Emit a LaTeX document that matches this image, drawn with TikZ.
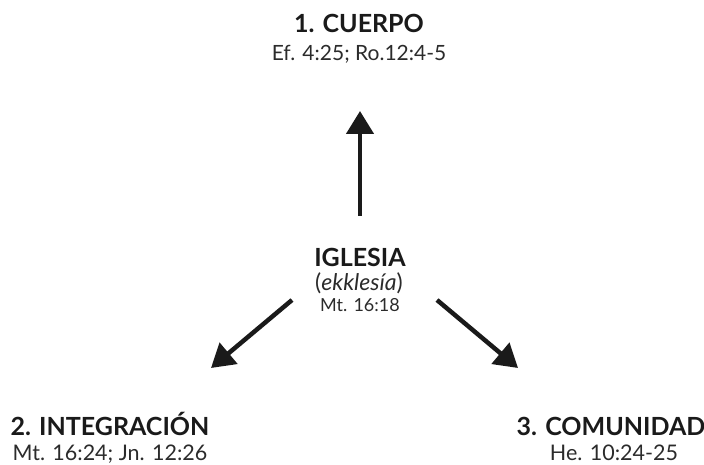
\documentclass[tikz,border=0pt]{standalone}
\usepackage{fontspec}
\setmainfont{Lato}
\usetikzlibrary{arrows.meta}
\definecolor{txt}{HTML}{1A1A1A}
\definecolor{reftxt}{HTML}{2B2B2B}
\begin{document}
\begin{tikzpicture}[x=1bp,y=-1bp,
  title/.style={anchor=base,inner sep=0pt,text=txt,font=\fontsize{25bp}{28bp}\selectfont\bfseries},
  reftext/.style={anchor=base,inner sep=0pt,text=reftxt},
  reftop/.style={reftext,font=\fontsize{21bp}{24bp}\selectfont},
  refmid/.style={reftext,font=\fontsize{18bp}{21bp}\selectfont},
  refital/.style={reftext,font=\fontsize{23bp}{26bp}\selectfont},
  refbot/.style={reftext,font=\fontsize{21.5bp}{24bp}\selectfont},
  arr/.style={line width=4.5bp,draw=txt,-{Triangle[length=23bp,width=27bp]}}]
\useasboundingbox (0,0) rectangle (704,465);
\node[title] (t1) at (359,33) {1. CUERPO};
\node[reftop] (r1) at (359,61) {Ef. 4:25; Ro.12:4-5};
\node[title] (ig) at (360,267) {IGLESIA};
\node[refital] (ek) at (359,291) {(\textit{ekklesía})};
\node[refmid] (mt) at (360,312) {Mt. 16:18};
\node[title] (t2) at (110,435) {2. INTEGRACIÓN};
\node[refbot] (r2) at (110,460) {Mt. 16:24; Jn. 12:26};
\node[title] (t3) at (611,435) {3. COMUNIDAD};
\node[refbot] (r3) at (614,460) {He. 10:24-25};
\coordinate (up0) at (360,216);
\coordinate (up1) at (360,111);
\coordinate (l0) at (292,300);
\coordinate (l1) at (211,368);
\coordinate (rr0) at (437,300);
\coordinate (rr1) at (518,368);
\draw[arr] (up0) -- (up1);
\draw[arr] (l0) -- (l1);
\draw[arr] (rr0) -- (rr1);
\end{tikzpicture}
\end{document}
